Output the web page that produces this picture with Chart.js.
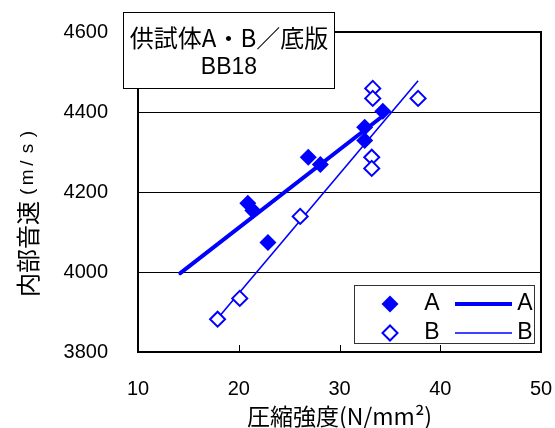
<!DOCTYPE html>
<html>
<head>
<meta charset="utf-8">
<script src="https://cdn.jsdelivr.net/npm/chart.js@4/dist/chart.umd.min.js"></script>
<style>
  html, body { margin: 0; padding: 0; background: #fff; }
  #wrap { width: 555px; height: 428px; }
</style>
</head>
<body>
<div id="wrap"><canvas id="chart"></canvas></div>
<script>
// values
const aStrength = [20.9, 21.4, 22.9, 26.9, 28.1, 32.5, 32.5, 34.3];
const aVelocity = [4172, 4154, 4074, 4287, 4269, 4362, 4329, 4402];
const bStrength = [17.9, 20.1, 26.1, 33.2, 33.2, 33.3, 33.3, 37.8];
const bVelocity = [3882, 3934, 4139, 4287, 4259, 4459, 4434, 4434];

// trend lines (end points as drawn in the picture)
const aTrendX = [14.2, 34.3];
const aTrendY = [3997, 4390];
const bTrendX = [17.9, 37.8];
const bTrendY = [3884, 4478];

const seriesNames = ['A', 'B'];
const xTicks = [10, 20, 30, 40, 50];
const yTicks = [3800, 4000, 4200, 4400, 4600];
const titleLines = ['供試体A・B／底版', 'BB18'];
const xTitle = '圧縮強度(N/mm²)';
const yTitleMain = '内部音速';
const yTitleUnit = '(m/s)';

const BLUE = '#0000ff';
const LATIN = '"Liberation Sans", Arial, sans-serif';
const CJK = '"Noto Sans CJK JP", "Noto Sans", sans-serif';

Chart.defaults.font.family = LATIN;
Chart.defaults.color = '#000';

const zip = (xs, ys) => xs.map((x, i) => ({ x: x, y: ys[i] }));

// keep tick label padding from shrinking the plot area
function noPad(s) {
  s.paddingTop = 0;
  s.paddingBottom = 0;
  s.paddingLeft = 0;
  s.paddingRight = 0;
}

function diamond(ctx, x, y, r, fill, stroke, lw) {
  ctx.beginPath();
  ctx.moveTo(x - r, y);
  ctx.lineTo(x, y - r);
  ctx.lineTo(x + r, y);
  ctx.lineTo(x, y + r);
  ctx.closePath();
  ctx.fillStyle = fill;
  ctx.fill();
  if (lw > 0) {
    ctx.lineWidth = lw;
    ctx.strokeStyle = stroke;
    ctx.stroke();
  }
}

const decor = {
  id: 'decor',
  afterDraw(chart) {
    const ctx = chart.ctx;
    const a = chart.chartArea;
    const xs = chart.scales.x;
    ctx.save();

    // plot frame
    ctx.strokeStyle = '#000';
    ctx.lineWidth = 2;
    ctx.strokeRect(a.left, a.top, a.right - a.left, a.bottom - a.top);

    // inside tick marks on the x axis
    ctx.lineWidth = 1;
    xTicks.slice(1, -1).forEach(v => {
      const px = Math.round(xs.getPixelForValue(v)) + 0.5;
      ctx.beginPath();
      ctx.moveTo(px, a.bottom);
      ctx.lineTo(px, a.bottom - 7);
      ctx.stroke();
    });

    // y axis title, rotated
    ctx.save();
    ctx.translate(28, 297);
    ctx.rotate(-Math.PI / 2);
    ctx.fillStyle = '#000';
    ctx.textBaseline = 'middle';
    ctx.textAlign = 'left';
    ctx.font = '24px ' + CJK;
    ctx.fillText(yTitleMain, 0, 0);
    let pos = ctx.measureText(yTitleMain).width + 2;
    ctx.font = '19px ' + LATIN;
    ctx.textAlign = 'center';
    for (const ch of yTitleUnit) {
      ctx.fillText(ch, pos + 7.2, 0);
      pos += 14.4;
    }
    ctx.restore();

    // title box
    ctx.fillStyle = '#fff';
    ctx.fillRect(123.5, 12.5, 211, 76);
    ctx.strokeStyle = '#000';
    ctx.lineWidth = 1;
    ctx.strokeRect(123.5, 12.5, 211, 76);
    ctx.fillStyle = '#000';
    ctx.textAlign = 'center';
    ctx.textBaseline = 'middle';
    ctx.font = '24px ' + CJK;
    ctx.fillText(titleLines[0], 229, 38);
    ctx.font = '23px ' + LATIN;
    ctx.fillText(titleLines[1], 229, 68);

    // legend box
    ctx.fillStyle = '#fff';
    ctx.fillRect(354.5, 285.5, 180, 58);
    ctx.strokeStyle = '#333';
    ctx.strokeRect(354.5, 285.5, 180, 58);
    const ds = chart.data.datasets;
    [[0, 2], [1, 3]].forEach(([pi, li], row) => {
      const y = row === 0 ? 304 : 333;
      const p = ds[pi];
      diamond(ctx, 390, y, p.pointRadius, p.backgroundColor, p.borderColor, p.borderWidth);
      ctx.fillStyle = '#000';
      ctx.font = '23px ' + LATIN;
      ctx.textAlign = 'center';
      ctx.fillText(p.label, 432, y);
      const l = ds[li];
      ctx.strokeStyle = l.borderColor;
      ctx.lineWidth = l.borderWidth;
      ctx.beginPath();
      ctx.moveTo(455, y);
      ctx.lineTo(512, y);
      ctx.stroke();
      ctx.fillStyle = '#000';
      ctx.fillText(l.label, 525, y);
    });

    ctx.restore();
  }
};

new Chart(document.getElementById('chart'), {
  type: 'scatter',
  data: {
    datasets: [
      {
        label: seriesNames[0],
        data: zip(aStrength, aVelocity),
        pointStyle: 'rectRot',
        pointRadius: 8.5,
        backgroundColor: BLUE,
        borderColor: BLUE,
        borderWidth: 0,
        order: 0,
      },
      {
        label: seriesNames[1],
        data: zip(bStrength, bVelocity),
        pointStyle: 'rectRot',
        pointRadius: 7.5,
        backgroundColor: '#ffffff',
        borderColor: BLUE,
        borderWidth: 2,
        order: 0,
      },
      {
        label: seriesNames[0],
        data: zip(aTrendX, aTrendY),
        showLine: true,
        pointRadius: 0,
        borderColor: BLUE,
        borderWidth: 4,
        borderCapStyle: 'round',
        order: 1,
      },
      {
        label: seriesNames[1],
        data: zip(bTrendX, bTrendY),
        showLine: true,
        pointRadius: 0,
        borderColor: BLUE,
        borderWidth: 1.6,
        order: 1,
      },
    ],
  },
  options: {
    responsive: true,
    maintainAspectRatio: false,
    animation: false,
    layout: { autoPadding: false, padding: { left: 0, right: 14, top: 32, bottom: 0 } },
    scales: {
      x: {
        type: 'linear',
        min: xTicks[0],
        max: xTicks[xTicks.length - 1],
        afterFit: s => { s.height = 76; noPad(s); },
        afterBuildTicks: s => { s.ticks = xTicks.map(v => ({ value: v })); },
        grid: { display: false, drawTicks: false },
        border: { display: false },
        ticks: { padding: 25, font: { size: 20 }, color: '#000', callback: v => String(v) },
        title: {
          display: true,
          text: xTitle,
          font: { family: CJK, size: 23, lineHeight: 1 },
          padding: { top: 0, bottom: 0 },
          color: '#000',
        },
      },
      y: {
        min: yTicks[0],
        max: yTicks[yTicks.length - 1],
        afterFit: s => { s.width = 138; noPad(s); },
        afterBuildTicks: s => { s.ticks = yTicks.map(v => ({ value: v })); },
        grid: { color: '#000', lineWidth: 1, drawTicks: false },
        border: { display: false },
        ticks: { padding: 30, font: { size: 20 }, color: '#000', callback: v => String(v) },
      },
    },
    plugins: {
      legend: { display: false },
      tooltip: { enabled: false },
    },
  },
  plugins: [decor],
});
</script>
</body>
</html>
